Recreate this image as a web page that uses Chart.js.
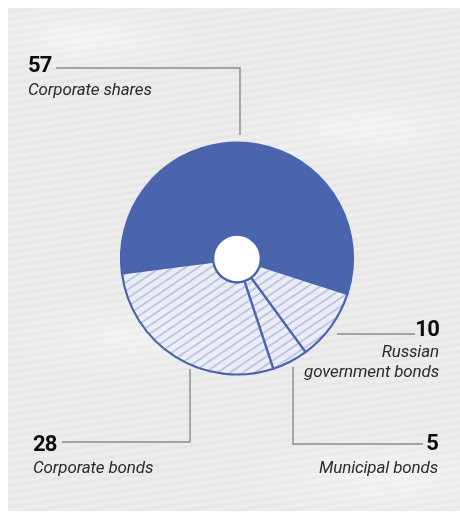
<!DOCTYPE html>
<html>
<head>
<meta charset="utf-8">
<script src="https://cdn.jsdelivr.net/npm/chart.js@4"></script>
<style>
  html, body { margin: 0; padding: 0; background: #ffffff; }
  #wrap { position: relative; width: 460px; height: 517px; overflow: hidden; }
  #paper {
    position: absolute; left: 8px; top: 8px; width: 452px; height: 503px;
    background-color: #eaeaea;
    background-image:
      radial-gradient(ellipse 120px 40px at 80px 30px, rgba(255,255,255,0.45), rgba(255,255,255,0)),
      radial-gradient(ellipse 150px 50px at 360px 120px, rgba(255,255,255,0.4), rgba(255,255,255,0)),
      radial-gradient(ellipse 140px 45px at 120px 330px, rgba(255,255,255,0.35), rgba(255,255,255,0)),
      radial-gradient(ellipse 160px 50px at 380px 470px, rgba(255,255,255,0.4), rgba(255,255,255,0)),
      repeating-linear-gradient(172deg, rgba(255,255,255,0.22) 0px, rgba(255,255,255,0.05) 2px, rgba(0,0,0,0.02) 4px, rgba(255,255,255,0.12) 7px);
  }
  canvas { position: absolute; left: 0; top: 0; }
  .lbl { position: absolute; font-family: Roboto, "Noto Sans", sans-serif; white-space: nowrap; line-height: 1; }
  .num { font-weight: 700; font-size: 22px; color: #0d0d0d; letter-spacing: -0.8px; }
  .cat { font-style: italic; font-weight: 400; font-size: 17px; color: #2b2b2b; letter-spacing: -0.15px; }
  .r { text-align: right; }
</style>
</head>
<body>
<div id="wrap">
  <div id="paper"></div>
  <canvas id="c" width="460" height="517"></canvas>
</div>
<script>
// ---- data ----
const categories = ['Corporate shares', 'Russian government bonds', 'Municipal bonds', 'Corporate bonds'];
const values = [57, 10, 5, 28];
const valueLabels = ['57', '10', '5', '28'];
const labelLines = [['Corporate shares'], ['Russian', 'government bonds'], ['Municipal bonds'], ['Corporate bonds']];

// ---- styles ----
const BLUE = '#4a64ae';

function makeHatch() {
  const s = 6.5;
  const t = document.createElement('canvas');
  t.width = 7; t.height = 7;
  const g = t.getContext('2d');
  g.fillStyle = 'rgba(238,241,250,0.55)';
  g.fillRect(0, 0, 7, 7);
  g.strokeStyle = '#aab9e4';
  g.lineWidth = 1.5;
  g.beginPath();
  g.moveTo(0, 3.5); g.lineTo(7, 3.5);
  g.stroke();
  const p = document.getElementById('c').getContext('2d').createPattern(t, 'repeat');
  const m = new DOMMatrix();
  m.rotateSelf(-34);
  p.setTransform(m);
  return p;
}
const hatch = makeHatch();

// label layout (annotation positions)
const labelLayout = [
  { side: 'left', x: 28, numBase: 73, catBase: 95, line: [[56, 68], [240, 68], [240, 135]] },
  { side: 'right', x: 439, numBase: 337, catBase: 357, line: [[337, 334], [415, 334]] },
  { side: 'right', x: 438, numBase: 451, catBase: 473, line: [[293, 367], [293, 444], [423, 444]] },
  { side: 'left', x: 33, numBase: 452, catBase: 473, line: [[62, 442], [190, 442], [190, 369]] }
];

const centerDisc = {
  id: 'centerDisc',
  afterDatasetsDraw(chart) {
    const arc = chart.getDatasetMeta(0).data[0];
    const ctx = chart.ctx;
    ctx.save();
    ctx.beginPath();
    ctx.arc(arc.x, arc.y, arc.innerRadius, 0, Math.PI * 2);
    ctx.fillStyle = '#ffffff';
    ctx.fill();
    ctx.lineWidth = 2.2;
    ctx.strokeStyle = BLUE;
    ctx.stroke();
    ctx.restore();
  }
};

const leaders = {
  id: 'leaders',
  afterDraw(chart) {
    const ctx = chart.ctx;
    ctx.save();
    ctx.strokeStyle = '#8c8c8c';
    ctx.lineWidth = 1.4;
    labelLayout.forEach(L => {
      ctx.beginPath();
      L.line.forEach((p, i) => i ? ctx.lineTo(p[0], p[1]) : ctx.moveTo(p[0], p[1]));
      ctx.stroke();
    });
    ctx.restore();
  }
};

new Chart(document.getElementById('c'), {
  type: 'doughnut',
  data: {
    labels: categories,
    datasets: [{
      data: values,
      backgroundColor: [BLUE, hatch, hatch, hatch],
      borderColor: BLUE,
      borderWidth: 2.2,
      hoverOffset: 0,
      borderJoinStyle: 'round'
    }]
  },
  options: {
    responsive: false,
    animation: false,
    rotation: 262.6,
    cutout: '20.5%',
    radius: 116,
    layout: { padding: { left: 14, right: 0, top: 0, bottom: 0 } },
    plugins: { legend: { display: false }, tooltip: { enabled: false } },
    events: []
  },
  plugins: [centerDisc, leaders]
});

// HTML text labels
const wrap = document.getElementById('wrap');
function addText(txt, cls, x, base, right, size) {
  const d = document.createElement('div');
  d.className = 'lbl ' + cls + (right ? ' r' : '');
  d.textContent = txt;
  const top = base - 0.8415 * size;
  d.style.top = top + 'px';
  if (right) { d.style.right = (460 - x) + 'px'; } else { d.style.left = x + 'px'; }
  wrap.appendChild(d);
}
labelLayout.forEach((L, i) => {
  const right = L.side === 'right';
  addText(valueLabels[i], 'num', L.x, L.numBase, right, 22);
  labelLines[i].forEach((t, j) => addText(t, 'cat', L.x, L.catBase + j * 20, right, 17));
});
</script>
</body>
</html>
